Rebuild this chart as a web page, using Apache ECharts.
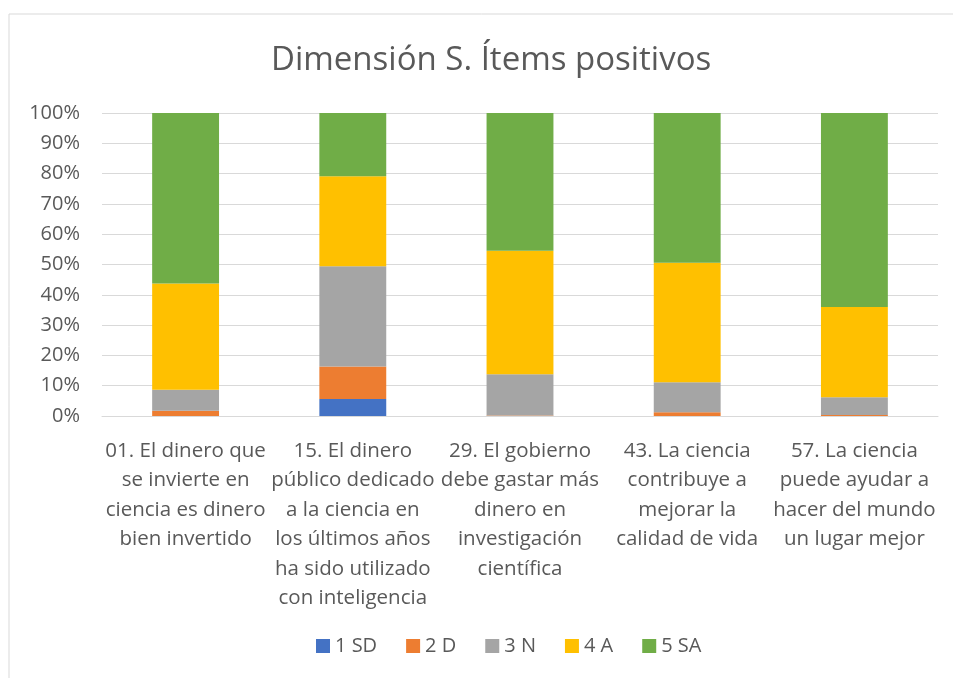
<!DOCTYPE html>
<html><head><meta charset="utf-8">
<script src="https://cdn.jsdelivr.net/npm/echarts@6/dist/echarts.min.js"></script>
<style>html,body{margin:0;padding:0;background:#fff}#c{width:953px;height:678px}</style>
</head><body><div id="c"></div>
<script>
const title = 'Dimensión S. Ítems positivos';
const categories = [
  '01. El dinero que\nse invierte en\nciencia es dinero\nbien invertido',
  '15. El dinero\npúblico dedicado\na la ciencia en\nlos últimos años\nha sido utilizado\ncon inteligencia',
  '29. El gobierno\ndebe gastar más\ndinero en\ninvestigación\ncientífica',
  '43. La ciencia\ncontribuye a\nmejorar la\ncalidad de vida',
  '57. La ciencia\npuede ayudar a\nhacer del mundo\nun lugar mejor'
];
const seriesNames = ['1 SD', '2 D', '3 N', '4 A', '5 SA'];
const sd = [0, 5.6, 0, 0, 0];
const d  = [1.7, 10.7, 0.2, 1.2, 0.3];
const n  = [7.0, 33.1, 13.6, 9.9, 5.9];
const a  = [35.0, 29.7, 40.7, 39.5, 29.8];
const sa = [56.3, 20.9, 45.5, 49.4, 64.0];
const colors = ['#4472C4', '#ED7D31', '#A5A5A5', '#FFC000', '#70AD47'];
const values = [sd, d, n, a, sa];
const font = '"Open Sans", Lato, sans-serif';

const chart = echarts.init(document.getElementById('c'));
chart.setOption({
  animation: false,
  color: colors,
  textStyle: {fontFamily: font},
  title: {
    text: title, left: 266, top: 39,
    textStyle: {fontFamily: font, fontSize: 33, fontWeight: 'normal', color: '#595959'}
  },
  graphic: [{
    type: 'rect', shape: {x: 9, y: 14, width: 960, height: 700},
    style: {fill: 'none', stroke: '#d9d9d9', lineWidth: 1}, silent: true
  }],
  legend: {
    bottom: 17, left: 311, icon: 'rect', itemWidth: 14, itemHeight: 14, itemGap: 29,
    textStyle: {fontFamily: font, fontSize: 20, color: '#595959'},
    data: seriesNames
  },
  grid: {left: 102, right: 15, top: 113, bottom: 262},
  xAxis: {
    type: 'category', data: categories,
    axisLine: {lineStyle: {color: '#d9d9d9'}},
    axisTick: {show: false},
    axisLabel: {interval: 0, margin: 20, fontFamily: font, fontSize: 20.5, lineHeight: 29.5, color: '#595959', align: 'center'}
  },
  yAxis: {
    type: 'value', min: 0, max: 100, interval: 10,
    axisLine: {show: false}, axisTick: {show: false},
    splitLine: {lineStyle: {color: '#d9d9d9'}},
    axisLabel: {formatter: '{value}%', fontFamily: font, fontSize: 20, color: '#595959', margin: 22}
  },
  series: seriesNames.map((nm, i) => ({
    name: nm, type: 'bar', stack: 'total', barWidth: '40%',
    data: values[i]
  }))
});
</script></body></html>
